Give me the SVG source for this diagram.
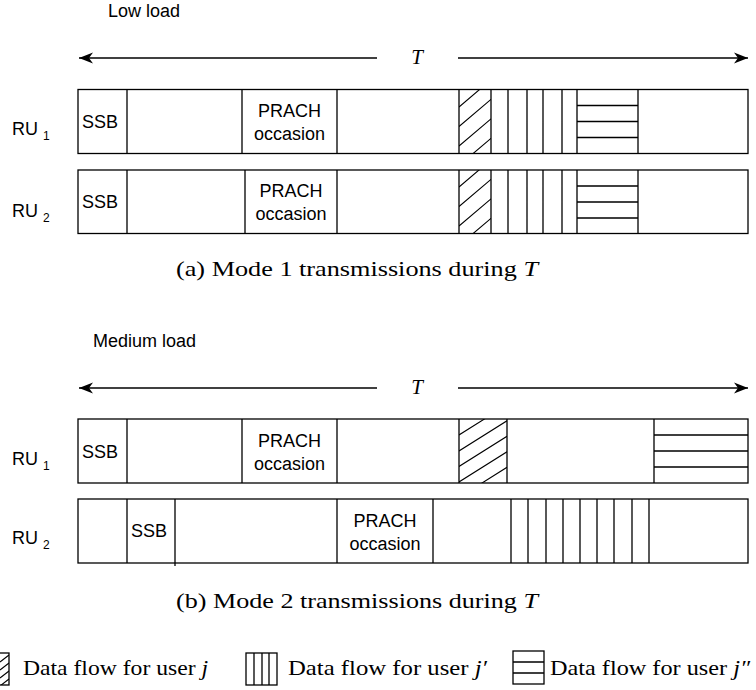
<svg xmlns="http://www.w3.org/2000/svg" width="756" height="690" viewBox="0 0 756 690">
  <defs>
    <marker id="ah" markerUnits="userSpaceOnUse" markerWidth="16" markerHeight="14" refX="14" refY="6" orient="auto">
      <path d="M14,6 L0,0.5 L4,6 L0,11.5 Z" fill="#000"/>
    </marker>
    <clipPath id="h1"><rect x="459" y="89.5" width="32" height="64"/></clipPath>
    <clipPath id="h2"><rect x="459" y="170" width="32" height="63.5"/></clipPath>
    <clipPath id="h3"><rect x="459" y="419" width="48" height="64"/></clipPath>
    <clipPath id="h4"><rect x="-20" y="653" width="29" height="32"/></clipPath>
  </defs>
  <style>
    .box{fill:#fff;stroke:#000;stroke-width:1.3}
    .ln{stroke:#000;stroke-width:1.3;fill:none}
    .hl{stroke:#000;stroke-width:1.1;fill:none}
    .sans{font-family:"Liberation Sans",Arial,sans-serif;font-size:18px;fill:#000}
    .sub{font-family:"Liberation Sans",Arial,sans-serif;font-size:12px;fill:#000}
    .mid{text-anchor:middle}
    .serif{font-family:"Liberation Serif","Times New Roman",serif;font-size:21px;fill:#000}
    .it{font-style:italic}
  </style>

  <!-- titles -->
  <text class="sans" x="108" y="17">Low load</text>
  <text class="sans" x="93" y="347">Medium load</text>

  <!-- time span connectors -->
  <g id="connectors">
    <line class="ln" x1="377" y1="58" x2="79" y2="58" marker-end="url(#ah)"/>
    <line class="ln" x1="458" y1="58" x2="748" y2="58" marker-end="url(#ah)"/>
    <line class="ln" x1="377" y1="388" x2="79" y2="388" marker-end="url(#ah)"/>
    <line class="ln" x1="458" y1="388" x2="748" y2="388" marker-end="url(#ah)"/>
  </g>
  <text class="serif it mid" x="417" y="64">T</text>
  <text class="serif it mid" x="417" y="394">T</text>

  <!-- Mode 1, RU1 -->
  <g id="m1-ru1">
    <text class="sans" x="12" y="135">RU <tspan class="sub" dy="5">1</tspan></text>
    <rect class="box" x="78" y="89.5" width="670" height="64"/>
    <path class="ln" d="M127,89.5V153.5M242,89.5V153.5M337,89.5V153.5M459,89.5V153.5M491,89.5V153.5M508,89.5V153.5M527,89.5V153.5M543,89.5V153.5M562,89.5V153.5M577,89.5V153.5M638,89.5V153.5M577,105.5H638M577,121.5H638M577,137.5H638"/>
    <g clip-path="url(#h1)">
      <path class="hl" d="M459,107L491,79.8M459,126.5L491,99.3M459,146L491,118.8M459,165.5L491,138.3M459,185L491,157.8"/>
    </g>
    <text class="sans" x="82" y="128">SSB</text>
    <text class="sans mid" x="289.5" y="117">PRACH</text>
    <text class="sans mid" x="289.5" y="140">occasion</text>
  </g>

  <!-- Mode 1, RU2 -->
  <g id="m1-ru2">
    <text class="sans" x="12" y="217">RU <tspan class="sub" dy="5">2</tspan></text>
    <rect class="box" x="78" y="170" width="670" height="63.5"/>
    <path class="ln" d="M127,170V233.5M245,170V233.5M337,170V233.5M459,170V233.5M491,170V233.5M508,170V233.5M527,170V233.5M543,170V233.5M562,170V233.5M577,170V233.5M638,170V233.5M577,186H638M577,202H638M577,218H638"/>
    <g clip-path="url(#h2)">
      <path class="hl" d="M459,187L491,159.8M459,206.5L491,179.3M459,226L491,198.8M459,245.5L491,218.3M459,265L491,237.8"/>
    </g>
    <text class="sans" x="82" y="208">SSB</text>
    <text class="sans mid" x="291" y="197">PRACH</text>
    <text class="sans mid" x="291" y="220">occasion</text>
  </g>

  <text class="serif" x="176" y="276" textLength="362" lengthAdjust="spacingAndGlyphs">(a) Mode 1 transmissions during <tspan class="it">T</tspan></text>

  <!-- Mode 2, RU1 -->
  <g id="m2-ru1">
    <text class="sans" x="12" y="465">RU <tspan class="sub" dy="5">1</tspan></text>
    <rect class="box" x="78" y="419" width="670" height="64"/>
    <path class="ln" d="M127,419V483M242,419V483M337,419V483M459,419V483M507,419V483M654,419V483M654,435H748M654,451H748M654,467H748"/>
    <g clip-path="url(#h3)">
      <path class="hl" d="M459,435L507,404.8M459,451L507,420.8M459,466.5L507,436.3M459,482L507,451.8M459,497.5L507,467.3"/>
    </g>
    <text class="sans" x="82" y="458">SSB</text>
    <text class="sans mid" x="289.5" y="447">PRACH</text>
    <text class="sans mid" x="289.5" y="470">occasion</text>
  </g>

  <!-- Mode 2, RU2 -->
  <g id="m2-ru2">
    <text class="sans" x="12" y="544">RU <tspan class="sub" dy="5">2</tspan></text>
    <rect class="box" x="78" y="499" width="670" height="64"/>
    <path class="ln" d="M127,499V563M175,499V566M337,499V563M433,499V563M511,499V563M528,499V563M546,499V563M563,499V563M580,499V563M597,499V563M614,499V563M632,499V563M649,499V563"/>
    <text class="sans" x="131" y="537">SSB</text>
    <text class="sans mid" x="385" y="527">PRACH</text>
    <text class="sans mid" x="385" y="550">occasion</text>
  </g>

  <text class="serif" x="176" y="608" textLength="362" lengthAdjust="spacingAndGlyphs">(b) Mode 2 transmissions during <tspan class="it">T</tspan></text>

  <!-- legend -->
  <g id="legend-j">
    <rect class="box" x="-20" y="653" width="29" height="32"/>
    <g clip-path="url(#h4)">
      <path class="hl" d="M0,662L9,655M0,670L9,663M0,678L9,671M0,686L9,679"/>
    </g>
    <text class="serif" x="23" y="675" textLength="185" lengthAdjust="spacingAndGlyphs">Data flow for user <tspan class="it">j</tspan></text>
  </g>
  <g id="legend-j1">
    <rect class="box" x="246" y="653" width="31" height="32"/>
    <path class="ln" d="M254,653V685M262,653V685M269,653V685"/>
    <text class="serif" x="288" y="675" textLength="199" lengthAdjust="spacingAndGlyphs">Data flow for user <tspan class="it">j′</tspan></text>
  </g>
  <g id="legend-j2">
    <rect class="box" x="513" y="651" width="31" height="33"/>
    <path class="ln" d="M513,662H544M513,673H544"/>
    <text class="serif" x="550" y="675" textLength="200" lengthAdjust="spacingAndGlyphs">Data flow for user <tspan class="it">j″</tspan></text>
  </g>
</svg>
